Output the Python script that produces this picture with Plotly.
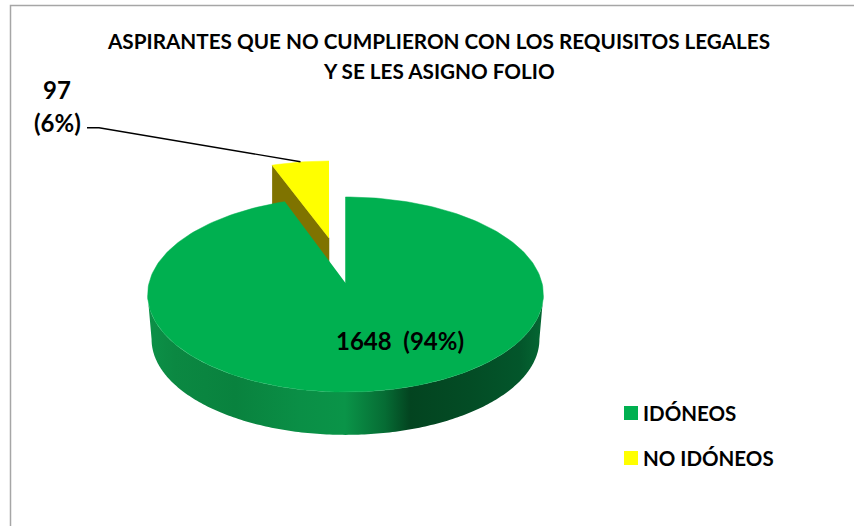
import math
import plotly.graph_objects as go

# ---- data ----
categories = ["IDÓNEOS", "NO IDÓNEOS"]
values = [1648, 97]
colors = ["#00B050", "#FFFF00"]
title_lines = ["ASPIRANTES QUE NO CUMPLIERON CON LOS REQUISITOS LEGALES", "Y SE LES ASIGNO FOLIO"]

# ---- projection of the tilted pie onto the page (pixels) ----
APEX_X, APEX_Y = 345.5, 283.0
RX, RY_A, C = 196.5, -62.8, 0.118
DEPTH, DEPTH_SCALE = 45.0, 0.98
total = sum(values)
sweep = [v / total * 360 for v in values]


def project(deg):
    t = math.radians(deg)
    d = 1 + C * math.cos(t)
    return APEX_X + RX * math.sin(t) / d, (RY_A * math.cos(t) + APEX_Y) / d


def lower(x, y):
    return APEX_X + DEPTH_SCALE * (x - APEX_X), APEX_Y + DEPTH + DEPTH_SCALE * (y - APEX_Y)


# shading of the rim, by page x
RIM_X0, RIM_X1 = 147.0, 545.0
shade_stops = [(147, "rgb(12,145,72)"), (175, "rgb(11,136,66)"), (235, "rgb(9,130,62)"), (300, "rgb(10,143,70)"),
               (345, "rgb(10,148,72)"), (385, "rgb(6,108,52)"), (410, "rgb(3,68,32)"), (470, "rgb(3,76,37)"),
               (520, "rgb(3,86,43)"), (545, "rgb(5,105,52)")]
rim_scale = [[(x - RIM_X0) / (RIM_X1 - RIM_X0), c] for x, c in shade_stops]

fig = go.Figure()


def poly(xs, ys, color, width=1.0):
    fig.add_trace(go.Scatter(x=xs, y=ys, mode="lines", fill="toself", fillcolor=color,
                             line=dict(color=color, width=width), hoverinfo="skip", showlegend=False))


# yellow slice, pulled out of the pie
YEL_X, YEL_Y, YEL_SX, YEL_SY = 329.0, 238.0, 0.94, 0.895
end = -sweep[1]
yel = [(YEL_X + YEL_SX * (project(end + (0 - end) * i / 12)[0] - APEX_X),
        YEL_Y + YEL_SY * (project(end + (0 - end) * i / 12)[1] - APEX_Y)) for i in range(13)]
side_depth = 43.0
poly([yel[0][0], YEL_X, YEL_X, yel[0][0]],
     [yel[0][1], YEL_Y, YEL_Y + side_depth, yel[0][1] + side_depth], "#7F7300", 0.5)
poly([YEL_X] + [p[0] for p in yel], [YEL_Y] + [p[1] for p in yel], colors[1], 0.5)

# rim of the green slice, one shape with a horizontal gradient, between the widest points
widest = math.degrees(math.acos(-C))
rim_top = [project(widest + (360 - 2 * widest) * i / 200) for i in range(201)]
rim_low = [lower(*p) for p in reversed(rim_top)]
rim = rim_top + rim_low
fig.add_trace(go.Scatter(x=[p[0] for p in rim], y=[p[1] for p in rim], mode="none", fill="toself",
                         fillgradient=dict(type="horizontal", colorscale=rim_scale, start=RIM_X0, stop=RIM_X1),
                         hoverinfo="skip", showlegend=False))

# green top face
pts = [project(sweep[0] * i / 240) for i in range(241)]
poly([APEX_X] + [p[0] for p in pts], [APEX_Y] + [p[1] for p in pts], colors[0], 0.5)

# leader line of the small slice
fig.add_trace(go.Scatter(x=[87, 99, 300.5], y=[127.7, 127.7, 161.7], mode="lines",
                         line=dict(color="black", width=1.4), hoverinfo="skip", showlegend=False))

FONT = "Lato"
ann = [
    dict(x=438.5, y=41, text="<b>%s</b>" % title_lines[0], size=20.7, anchor="center"),
    dict(x=438.5, y=71, text="<b>%s</b>" % title_lines[1], size=20.7, anchor="center"),
    dict(x=57, y=89, text="<b>%d</b>" % values[1], size=24, anchor="center"),
    dict(x=57, y=122, text="<b>(%d%%)</b>" % round(values[1] / total * 100), size=24, anchor="center"),
    dict(x=400, y=340, text="<b>%d  (%d%%)</b>" % (values[0], round(values[0] / total * 100)), size=24, anchor="center"),
    dict(x=643, y=413, text="<b>%s</b>" % categories[0], size=20.5, anchor="left"),
    dict(x=643, y=458, text="<b>%s</b>" % categories[1], size=20.5, anchor="left"),
]
annotations = [dict(x=a["x"], y=a["y"], xref="x", yref="y", text=a["text"], showarrow=False,
                    xanchor=a["anchor"], yanchor="middle",
                    borderpad=0, borderwidth=0,
                    font=dict(family=FONT, size=a["size"], color="black")) for a in ann]

swatches = [dict(type="rect", x0=624, x1=638, y0=406 + 45 * i, y1=420 + 45 * i, xref="x", yref="y",
                 fillcolor=c, line=dict(width=0)) for i, c in enumerate(colors)]

fig.update_layout(
    width=854, height=526, margin=dict(l=0, r=0, t=0, b=0),
    paper_bgcolor="white", plot_bgcolor="white", showlegend=False,
    xaxis=dict(range=[0, 854], visible=False, fixedrange=True),
    yaxis=dict(range=[526, 0], visible=False, fixedrange=True),
    annotations=annotations,
    shapes=[dict(type="path", path="M 10.5 526 L 10.5 5.5 L 854 5.5", xref="x", yref="y",
                 line=dict(color="#A6A6A6", width=1.5))] + swatches,
)
fig.write_html("out.html", post_script="document.body.style.margin='0';", config=dict(displayModeBar=False))
